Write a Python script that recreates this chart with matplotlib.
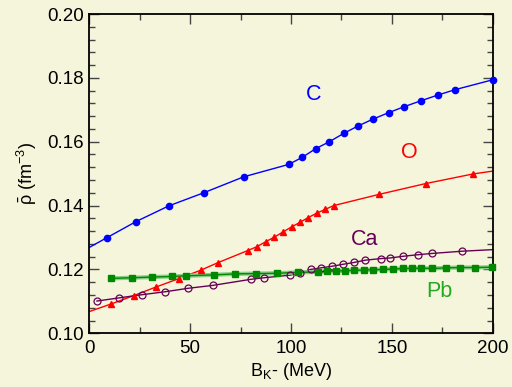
import matplotlib
matplotlib.use('Agg')
import matplotlib.pyplot as plt
from matplotlib.ticker import MultipleLocator

plt.rcParams['font.family'] = ['Liberation Sans', 'DejaVu Sans']
plt.rcParams['mathtext.fontset'] = 'custom'
plt.rcParams['mathtext.rm'] = 'Liberation Sans'
plt.rcParams['mathtext.it'] = 'Liberation Sans'

# average density vs K- binding energy
c_x = [8.6, 23.2, 39.4, 56.7, 76.5, 98.9, 105.5, 112.2, 119.0, 126.1, 133.1,
       140.7, 148.4, 156.2, 164.3, 172.7, 181.3, 200.0]
c_y = [0.1299, 0.1350, 0.1399, 0.1440, 0.1490, 0.1529, 0.1551, 0.1578, 0.1600,
       0.1626, 0.1649, 0.1671, 0.1691, 0.1710, 0.1728, 0.1746, 0.1763, 0.1794]
c_start = (0.0, 0.1269)

o_x = [10.9, 22.0, 33.1, 44.3, 55.4, 63.7, 78.5, 83.0, 87.5, 91.7, 96.2,
       100.5, 104.6, 108.4, 112.7, 116.9, 121.2, 143.6, 166.8, 190.2]
o_y = [0.1092, 0.1118, 0.1145, 0.1171, 0.1198, 0.1221, 0.1259, 0.1271, 0.1287,
       0.1301, 0.1318, 0.1334, 0.1348, 0.1362, 0.1376, 0.1388, 0.1400, 0.1435,
       0.1469, 0.1499]
o_start = (0.0, 0.1068)
o_end = (200.0, 0.1508)

ca_x = [3.8, 14.9, 26.3, 37.5, 49.1, 61.2, 80.0, 86.7, 99.4, 104.6, 109.7,
        114.9, 120.4, 125.7, 131.4, 136.8, 144.6, 149.3, 155.3, 162.8, 169.8, 184.6]
ca_y = [0.1101, 0.1111, 0.1121, 0.1130, 0.1141, 0.1150, 0.1169, 0.1174, 0.1182,
        0.1189, 0.1200, 0.1205, 0.1210, 0.1216, 0.1222, 0.1229, 0.1234, 0.1236,
        0.1241, 0.1246, 0.1250, 0.1257]
ca_end = (200.0, 0.1262)

pb_x = [10.8, 21.0, 30.9, 41.2, 48.1, 62.0, 72.1, 82.6, 93.2, 103.6, 113.5,
        117.9, 122.3, 126.9, 131.4, 136.0, 140.8, 145.6, 150.5, 155.3, 159.9,
        164.6, 170.0, 177.0, 183.8, 191.1, 199.5]
pb_y = [0.1172, 0.1174, 0.1176, 0.1178, 0.1180, 0.1183, 0.1186, 0.1187, 0.1188,
        0.1191, 0.1192, 0.1194, 0.1195, 0.1196, 0.1197, 0.1198, 0.1199, 0.1200,
        0.1201, 0.1203, 0.1203, 0.1204, 0.1203, 0.1205, 0.1206, 0.1206, 0.1207]

bg = '#f5f5dc'
c_col = '#0000ff'
o_col = '#ff0000'
ca_col = '#660055'
pb_col = '#008800'

fig = plt.figure(figsize=(5.12, 3.87), dpi=100, facecolor=bg)
ax = fig.add_axes([0.1744, 0.1388, 0.788, 0.825], facecolor=bg)

# C
ax.plot([c_start[0]] + c_x, [c_start[1]] + c_y, color=c_col, lw=1)
ax.plot(c_x, c_y, 'o', color=c_col, ms=4.5, clip_on=False, zorder=5)

# O
ax.plot([o_start[0]] + o_x + [o_end[0]], [o_start[1]] + o_y + [o_end[1]],
        color=o_col, lw=1)
ax.plot(o_x, o_y, '^', color=o_col, ms=4.3, zorder=5)

# Ca
ax.plot(ca_x + [ca_end[0]], ca_y + [ca_end[1]], color=ca_col, lw=1)
ax.plot(ca_x, ca_y, 'o', mfc='none', mec=ca_col, mew=0.9, ms=5, zorder=5)

# Pb
ax.plot(pb_x, pb_y, color='#88d088', lw=3, solid_capstyle='butt')
ax.plot(pb_x, pb_y, color=pb_col, lw=1)
ax.plot(pb_x, pb_y, 's', color=pb_col, ms=4.5, clip_on=False, zorder=5)

ax.text(111, 0.1749, 'C', color=c_col, fontsize=15.5, ha='center', va='center')
ax.text(158.7, 0.1567, 'O', color=o_col, fontsize=15.5, ha='center', va='center')
ax.text(136.7, 0.1295, 'Ca', color=ca_col, fontsize=15.5, ha='center', va='center')
ax.text(173.4, 0.1130, 'Pb', color='#22aa22', fontsize=15.5, ha='center', va='center')

ax.set_xlim(0, 200)
ax.set_ylim(0.10, 0.20)
ax.xaxis.set_major_locator(MultipleLocator(50))
ax.xaxis.set_minor_locator(MultipleLocator(25))
ax.yaxis.set_major_locator(MultipleLocator(0.02))
ax.yaxis.set_minor_locator(MultipleLocator(0.004))
ax.yaxis.set_major_formatter(matplotlib.ticker.FormatStrFormatter('%.2f'))
ax.tick_params(which='both', direction='in', top=True, right=True,
               labelsize=13.5, color='#444444', width=1)
ax.tick_params(which='major', length=7)
ax.tick_params(which='minor', length=4)
ax.tick_params(axis='x', pad=5)
ax.tick_params(axis='y', pad=4)
for s in ax.spines.values():
    s.set_linewidth(1.3)

ax.set_xlabel(r'B$_{\mathrm{K}}$- (MeV)', fontsize=13, labelpad=3)
ax.set_ylabel(r'$\bar{\rho}$ (fm$^{-3}$)', fontsize=13, labelpad=6)

fig.savefig('out.png', dpi=100, facecolor=bg)
